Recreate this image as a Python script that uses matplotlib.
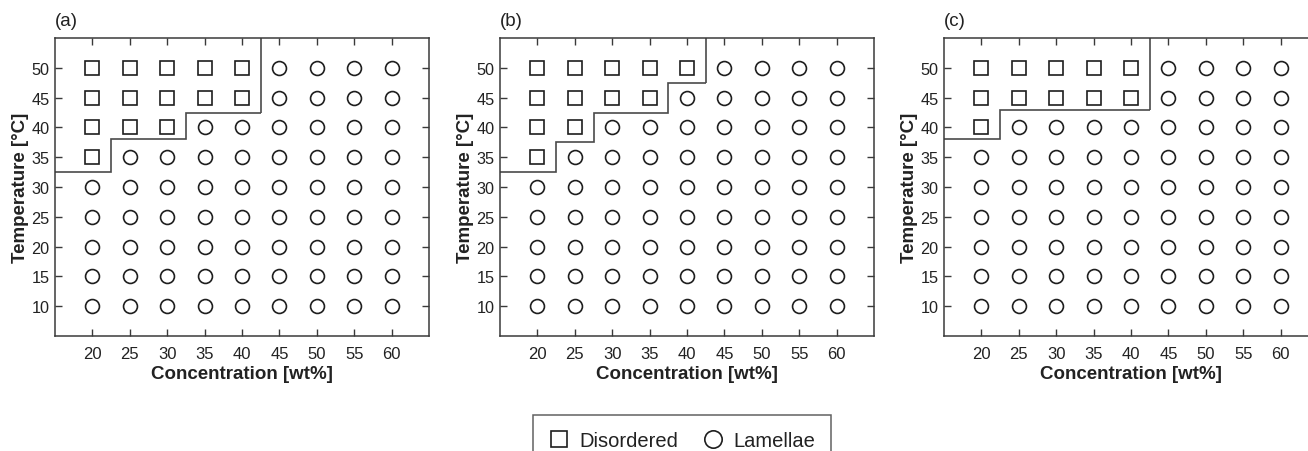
import matplotlib
matplotlib.use("Agg")
import matplotlib.pyplot as plt
from matplotlib.lines import Line2D

plt.rcParams['font.family'] = ['Liberation Sans', 'DejaVu Sans']

# Sampled grid
concentrations = [20, 25, 30, 35, 40, 45, 50, 55, 60]
temperatures = [10, 15, 20, 25, 30, 35, 40, 45, 50]
x_ticks = [20, 25, 30, 35, 40, 45, 50, 55, 60]
y_ticks = [10, 15, 20, 25, 30, 35, 40, 45, 50]

# Highest concentration that is still disordered at each temperature (0 = none)
disordered_upto_a = [0, 0, 0, 0, 0, 20, 30, 40, 40]
disordered_upto_b = [0, 0, 0, 0, 0, 20, 25, 35, 40]
disordered_upto_c = [0, 0, 0, 0, 0, 0, 20, 40, 40]

# Phase boundary: concentration bin edges and transition temperature in each bin
boundary_edges_a = [15, 22.5, 32.5, 42.5]
boundary_temps_a = [32.5, 38, 42.5]
boundary_edges_b = [15, 22.5, 27.5, 37.5, 42.5]
boundary_temps_b = [32.5, 37.5, 42.5, 47.5]
boundary_edges_c = [15, 22.5, 42.5]
boundary_temps_c = [38, 43]

panel_labels = ["(a)", "(b)", "(c)"]
legend_labels = ["Disordered", "Lamellae"]

panels = [
    (disordered_upto_a, boundary_edges_a, boundary_temps_a),
    (disordered_upto_b, boundary_edges_b, boundary_temps_b),
    (disordered_upto_c, boundary_edges_c, boundary_temps_c),
]

W, H = 1308, 452
fig = plt.figure(figsize=(W / 100, H / 100), dpi=100)

spine_col = "#3a3a3a"
mark_col = "#1e1e1e"
line_col = "#4a4a4a"
XLIM = (15, 65)
YLIM = (5, 55)

lefts = [55, 500, 944]
ax_w = 374
ax_top, ax_bot = 39, 337

for i, (upto, edges, temps) in enumerate(panels):
    ax = fig.add_axes([lefts[i] / W, 1 - ax_bot / H, ax_w / W, (ax_bot - ax_top) / H])
    ax.set_xlim(*XLIM)
    ax.set_ylim(*YLIM)

    sq_x, sq_y, ci_x, ci_y = [], [], [], []
    for t, lim in zip(temperatures, upto):
        for c in concentrations:
            if c <= lim:
                sq_x.append(c); sq_y.append(t)
            else:
                ci_x.append(c); ci_y.append(t)
    ax.plot(sq_x, sq_y, ls="none", marker="s", ms=9.6, mfc="none",
            mec=mark_col, mew=1.2)
    ax.plot(ci_x, ci_y, ls="none", marker="o", ms=10.0, mfc="none",
            mec=mark_col, mew=1.2)

    ax.stairs(temps, edges, baseline=None, color=line_col, lw=1.2)
    ax.vlines(edges[-1], temps[-1], YLIM[1], color=line_col, lw=1.2)

    ax.set_xticks(x_ticks)
    ax.set_yticks(y_ticks)
    ax.tick_params(axis="both", direction="in", top=True, right=True,
                   length=5, width=1.0, color=spine_col, labelsize=12,
                   labelcolor="#222222")
    ax.tick_params(axis="x", pad=7)
    ax.tick_params(axis="y", pad=4, labelsize=11.7)
    for s in ax.spines.values():
        s.set_color(spine_col)
        s.set_linewidth(1.1)

    ax.set_xlabel("Concentration [wt%]", fontsize=13.5, fontweight="bold",
                  color="#222222", labelpad=3)
    ax.set_ylabel("Temperature [°C]", fontsize=13.5, fontweight="bold",
                  color="#222222", labelpad=2)

    fig.text(lefts[i] / W, 1 - 21 / H, panel_labels[i], fontsize=13.5,
             ha="left", va="center", color="#222222")

handles = [
    Line2D([], [], ls="none", marker="s", ms=12, mfc="none", mec=mark_col, mew=1.2),
    Line2D([], [], ls="none", marker="o", ms=12.5, mfc="none", mec=mark_col, mew=1.2),
]
leg = fig.legend(handles, legend_labels, ncol=2, loc="upper center",
                 bbox_to_anchor=(682 / W, 1 - 416 / H), fontsize=14.5,
                 frameon=True, fancybox=False, handlelength=1.0,
                 handletextpad=0.5, columnspacing=1.25, borderpad=0.78,
                 borderaxespad=0)
leg.get_frame().set_edgecolor(spine_col)
leg.get_frame().set_linewidth(1.1)
for t in leg.get_texts():
    t.set_color("#222222")

fig.savefig("out.png", dpi=100)
